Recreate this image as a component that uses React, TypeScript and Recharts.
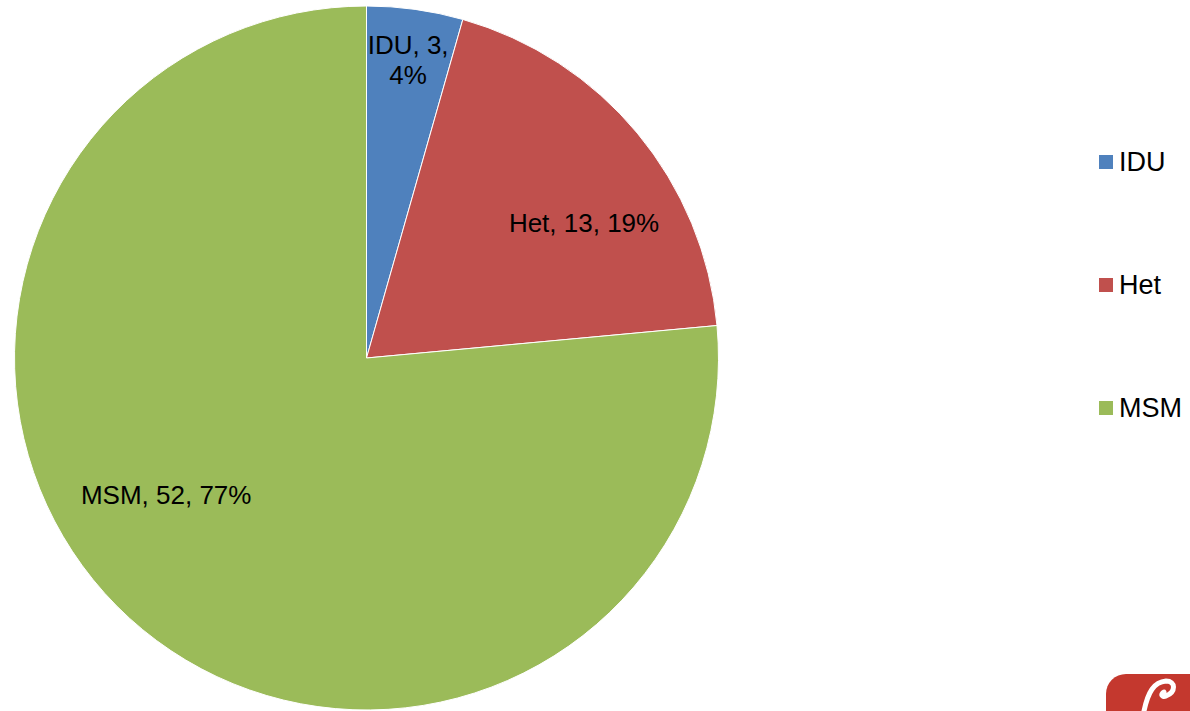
import React from 'react';
import { Cell, Legend, Pie, PieChart } from 'recharts';

const categories = ['IDU', 'Het', 'MSM'];
const counts = [3, 13, 52];
const percentLabels = ['4%', '19%', '77%'];
const sliceColors = ['#4F81BD', '#C0504D', '#9BBB59'];

// label placement (fraction of radius, angle nudge in degrees) – mimics Excel best fit
const labelRadius = [0.856, 0.728, 0.69];
const labelAngleShift = [0, -7.8, -13.2];

const FONT = '"Liberation Sans", Arial, sans-serif';
const RAD = Math.PI / 180;

const pieData = categories.map((name, i) => ({ name, value: counts[i], pct: percentLabels[i] }));

const renderLabel = (props: any) => {
    const { cx, cy, midAngle, outerRadius, index } = props;
    const angle = (midAngle + labelAngleShift[index]) * RAD;
    const r = outerRadius * labelRadius[index];
    const x = cx + r * Math.cos(-angle);
    const y = cy + r * Math.sin(-angle);
    const entry = pieData[index];

    if (index === 0) {
        return (
            <text x={x} y={y} textAnchor="middle" fill="#000" fontSize={26} fontFamily={FONT}>
                <tspan x={x} dy={-6}>{`${entry.name}, ${entry.value},`}</tspan>
                <tspan x={x} dy={30}>{entry.pct}</tspan>
            </text>
        );
    }
    return (
        <text x={x} y={y} dy={9} textAnchor="middle" fill="#000" fontSize={26} fontFamily={FONT}>
            {`${entry.name}, ${entry.value}, ${entry.pct}`}
        </text>
    );
};

const renderLegend = () => (
    <div style={{ fontFamily: FONT, fontSize: 27, color: '#000' }}>
        {pieData.map((entry, i) => (
            <div key={entry.name} style={{ display: 'flex', alignItems: 'center', height: 123 }}>
                <span style={{ width: 14, height: 14, background: sliceColors[i], marginRight: 6, display: 'inline-block' }} />
                <span style={{ lineHeight: '28px' }}>{entry.name}</span>
            </div>
        ))}
    </div>
);

export default function App() {
    return (
        <div style={{ position: 'absolute', left: 0, top: 0, width: 1190, height: 711, background: '#fff', overflow: 'hidden' }}>
            <PieChart width={1190} height={711} margin={{ top: 0, right: 0, bottom: 0, left: 0 }}>
                <Pie
                    data={pieData}
                    dataKey="value"
                    nameKey="name"
                    cx={366.5}
                    cy={358}
                    outerRadius={352}
                    startAngle={90}
                    endAngle={-270}
                    stroke="#ffffff"
                    strokeWidth={1}
                    label={renderLabel}
                    labelLine={false}
                    isAnimationActive={false}
                >
                    {pieData.map((entry, i) => (
                        <Cell key={entry.name} fill={sliceColors[i]} />
                    ))}
                </Pie>
                <Legend
                    content={renderLegend}
                    layout="vertical"
                    wrapperStyle={{ position: 'absolute', left: 1099, top: 100, width: 90 }}
                />
            </PieChart>
            {/* partial logo in the corner */}
            <svg style={{ position: 'absolute', left: 1104, top: 672 }} width={86} height={39}>
                <rect x={2} y={2} width={110} height={70} rx={20} fill="#C4382E" />
                <path d="M 40 39 C 44 20, 50 10, 62 9 C 72 9, 72 20, 62 24 C 58 26, 56 22, 60 20" stroke="#fff" strokeWidth={5} fill="none" strokeLinecap="round" />
            </svg>
        </div>
    );
}
